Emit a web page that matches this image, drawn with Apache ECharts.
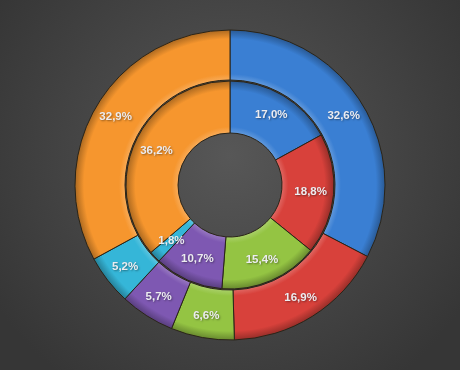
<!DOCTYPE html>
<html><head><meta charset="utf-8">
<script src="https://cdn.jsdelivr.net/npm/echarts@6/dist/echarts.min.js"></script>
<style>html,body{margin:0;padding:0;}#c{width:460px;height:370px;}</style>
</head><body><div id="c"></div>
<script>
const categories = ['A', 'B', 'C', 'D', 'E', 'F'];
const innerValues = [17.0, 18.8, 15.4, 10.7, 1.8, 36.2];
const outerValues = [32.6, 16.9, 6.6, 5.7, 5.2, 32.9];
const colors = ['#3a7fd3', '#d8413b', '#94c443', '#7e58b2', '#35b6d8', '#f6962e'];

const CX = 230, CY = 185;
function hex(c){return [parseInt(c.slice(1,3),16),parseInt(c.slice(3,5),16),parseInt(c.slice(5,7),16)];}
function mix(c, t, k){const a=hex(c);return 'rgb('+a.map(v=>Math.round(v+(t-v)*k)).join(',')+')';}
function fill(c, r0, r1){
  const a = r0/r1;
  return {type:'radial', x:CX, y:CY, r:r1, global:true, colorStops:[
    {offset:a, color:mix(c,255,0.2)},
    {offset:a+0.04*(1-a)*3, color:c},
    {offset:1-0.06*(1-a)*3, color:c},
    {offset:1, color:mix(c,0,0.3)}
  ]};
}
function fmt(p){return p.value.toFixed(1).replace('.', ',') + '%';}
function mk(vals, r0, r1){
  return {
    type:'pie', center:[CX,CY], radius:[r0,r1], startAngle:90, clockwise:true,
    avoidLabelOverlap:false, silent:true, animation:false,
    label:{show:true, position:'inside', formatter:fmt, color:'#ececf0',
      fontFamily:'Liberation Sans', fontWeight:'bold', fontSize:11.5,
      textShadowColor:'rgba(0,0,0,0.4)', textShadowBlur:2, textShadowOffsetX:1, textShadowOffsetY:1},
    labelLine:{show:false},
    data: vals.map((v,i)=>({name:categories[i], value:v,
      itemStyle:{color:fill(colors[i], r0, r1), borderColor:'#2a2418', borderWidth:1}}))
  };
}
const chart = echarts.init(document.getElementById('c'), null, {renderer:'canvas'});
chart.setOption({
  animation:false,
  backgroundColor:{type:'radial', x:0.5, y:0.42, r:0.75, colorStops:[
    {offset:0, color:'#575757'}, {offset:1, color:'#363636'}]},
  series:[mk(innerValues, 52, 104), mk(outerValues, 105, 155)]
});
</script></body></html>
